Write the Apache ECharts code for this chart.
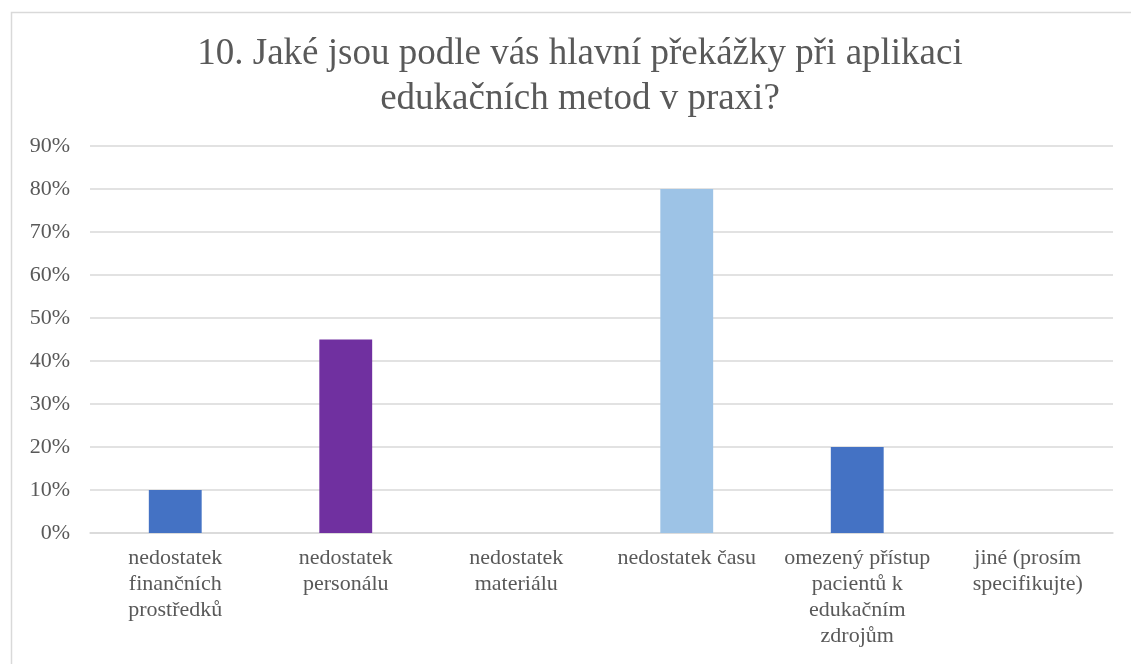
<!DOCTYPE html>
<html>
<head>
<meta charset="utf-8">
<script src="https://cdn.jsdelivr.net/npm/echarts@6/dist/echarts.min.js"></script>
<style>html,body{margin:0;padding:0;background:#fff;}#c{width:1131px;height:664px;}</style>
</head>
<body>
<div id="c"></div>
<script>
const categories = ["nedostatek\nfinančních\nprostředků", "nedostatek\npersonálu", "nedostatek\nmateriálu", "nedostatek času", "omezený přístup\npacientů k\nedukačním\nzdrojům", "jiné (prosím\nspecifikujte)"];
const values = [10, 45, 0, 80, 20, 0];
const barColors = ["#4472C4", "#7030A0", "#4472C4", "#9DC3E6", "#4472C4", "#4472C4"];
const titleText = "10. Jaké jsou podle vás hlavní překážky při aplikaci\nedukačních metod v praxi?";

const chart = echarts.init(document.getElementById('c'));
const font = "'Liberation Serif', 'Times New Roman', serif";
chart.setOption({
  animation: false,
  textStyle: { fontFamily: font },
  graphic: [{
    type: 'rect', left: 9, top: 10,
    shape: { width: 1140, height: 680 },
    style: { fill: 'none', stroke: '#d9d9d9', lineWidth: 1.5 },
    silent: true
  }],
  title: {
    text: titleText,
    left: 575, top: 27, textAlign: 'center',
    textStyle: { fontFamily: font, fontWeight: 'normal', fontSize: 37, lineHeight: 45, color: '#595959' }
  },
  grid: { left: 90, right: 18, top: 146, bottom: 131 },
  xAxis: {
    type: 'category',
    data: categories,
    axisLine: { show: true, lineStyle: { color: '#d9d9d9', width: 1.5 } },
    axisTick: { show: false },
    axisLabel: { interval: 0, margin: 12, fontFamily: font, fontSize: 22, lineHeight: 26, color: '#595959', verticalAlign: 'top' }
  },
  yAxis: {
    type: 'value', min: 0, max: 90, interval: 10,
    axisLine: { show: false }, axisTick: { show: false },
    axisLabel: { formatter: '{value}%', margin: 20, fontFamily: font, fontSize: 22, color: '#595959' },
    splitLine: { lineStyle: { color: '#d9d9d9', width: 1.5 } }
  },
  series: [{
    type: 'bar',
    data: values.map((v, i) => ({ value: v, itemStyle: { color: barColors[i] } })),
    barWidth: '31%'
  }]
});
</script>
</body>
</html>
